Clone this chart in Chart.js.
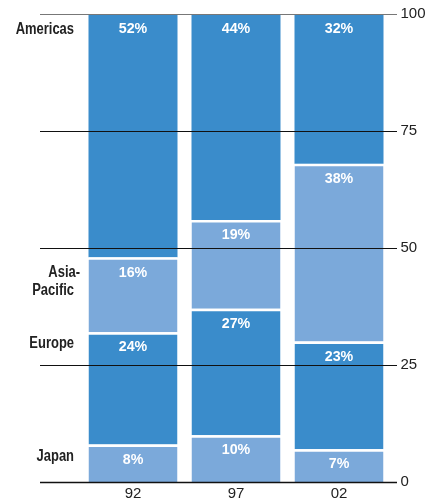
<!DOCTYPE html>
<html>
<head>
<meta charset="utf-8">
<script src="https://cdn.jsdelivr.net/npm/chart.js@4"></script>
<style>
  html, body { margin: 0; padding: 0; background: #fff; }
  #wrap { width: 438px; height: 501px; position: relative; }
</style>
</head>
<body>
<div id="wrap"><canvas id="chart"></canvas></div>
<script>
const years = ['92', '97', '02'];
const regions = ['Japan', 'Europe', 'Asia-Pacific', 'Americas'];
const japan = [8, 10, 7];
const europe = [24, 27, 23];
const asiaPacific = [16, 19, 38];
const americas = [52, 44, 32];
const yTicks = [0, 25, 50, 75, 100];

const darkBlue = '#3a8ccb';
const lightBlue = '#7ba9da';

// labels on the left side, split into lines, tied to the first bar
const regionLines = [['Japan'], ['Europe'], ['Asia-', 'Pacific'], ['Americas']];
const regionOffsets = [12, 11, 15, 16];

function makeSet(label, data, color, top) {
    return {
        label: label,
        data: data,
        backgroundColor: color,
        borderColor: '#fff',
        borderWidth: top ? 0 : {top: 2.5, left: 0, right: 0, bottom: 0},
        borderSkipped: false,
        barPercentage: 89 / 103,
        categoryPercentage: 1
    };
}

// draws text squeezed horizontally, to get a condensed look
function narrowText(ctx, txt, x, y, squeeze) {
    ctx.save();
    ctx.translate(x, y);
    ctx.scale(squeeze, 1);
    ctx.fillText(txt, 0, 0);
    ctx.restore();
}

const overlay = {
    id: 'overlay',
    afterDatasetsDraw(chart) {
        const ctx = chart.ctx;
        const y = chart.scales.y;
        const left = 40, right = 397;
        ctx.save();
        // grid lines drawn over the bars
        yTicks.forEach(t => {
            const py = Math.round(y.getPixelForValue(t)) + 0.5;
            ctx.strokeStyle = t === 100 ? '#777' : '#111';
            ctx.lineWidth = t === 0 ? 1.3 : 1.1;
            ctx.beginPath();
            ctx.moveTo(left, py);
            ctx.lineTo(right, py);
            ctx.stroke();
        });
        // value labels
        ctx.fillStyle = '#fff';
        ctx.font = 'bold 15px "Liberation Sans", Arial, sans-serif';
        ctx.textAlign = 'center';
        ctx.textBaseline = 'middle';
        chart.data.datasets.forEach((ds, i) => {
            chart.getDatasetMeta(i).data.forEach((bar, j) => {
                narrowText(ctx, ds.data[j] + '%', bar.x, bar.y + 15, 0.95);
            });
        });
        // region labels on the left
        ctx.fillStyle = '#222';
        ctx.font = 'bold 16px "Liberation Sans", Arial, sans-serif';
        ctx.textAlign = 'right';
        regionLines.forEach((lines, i) => {
            const bar = chart.getDatasetMeta(i).data[0];
            lines.forEach((txt, k) => {
                const tx = txt.endsWith('-') ? 80 : 74;
                narrowText(ctx, txt, tx, bar.y + regionOffsets[i] + k * 18, 0.81);
            });
        });
        ctx.restore();
    }
};

new Chart(document.getElementById('chart'), {
    type: 'bar',
    data: {
        labels: years,
        datasets: [
            makeSet(regions[0], japan, lightBlue, false),
            makeSet(regions[1], europe, darkBlue, false),
            makeSet(regions[2], asiaPacific, lightBlue, false),
            makeSet(regions[3], americas, darkBlue, true)
        ]
    },
    options: {
        responsive: true,
        maintainAspectRatio: false,
        animation: false,
        layout: { padding: { left: 81.5, top: 14, right: 0, bottom: 0 } },
        scales: {
            x: {
                stacked: true,
                grid: { display: false, drawTicks: false },
                border: { display: false },
                ticks: {
                    color: '#222',
                    padding: 3,
                    font: { family: '"Liberation Sans", Arial, sans-serif', size: 15 }
                },
                afterFit(scale) {
                    scale.height = 19;
                    scale.paddingLeft = 0;
                    scale.paddingRight = 0;
                }
            },
            y: {
                stacked: true,
                position: 'right',
                min: 0,
                max: 100,
                grid: { display: false, drawTicks: false },
                border: { display: false },
                afterBuildTicks(scale) { scale.ticks = yTicks.map(v => ({value: v})); },
                ticks: {
                    color: '#222',
                    padding: 10,
                    font: { family: '"Liberation Sans", Arial, sans-serif', size: 15 }
                },
                afterFit(scale) {
                    scale.width = 47.5;
                    scale.paddingTop = 0;
                    scale.paddingBottom = 0;
                }
            }
        },
        plugins: {
            legend: { display: false },
            tooltip: { enabled: false }
        }
    },
    plugins: [overlay]
});
</script>
</body>
</html>
